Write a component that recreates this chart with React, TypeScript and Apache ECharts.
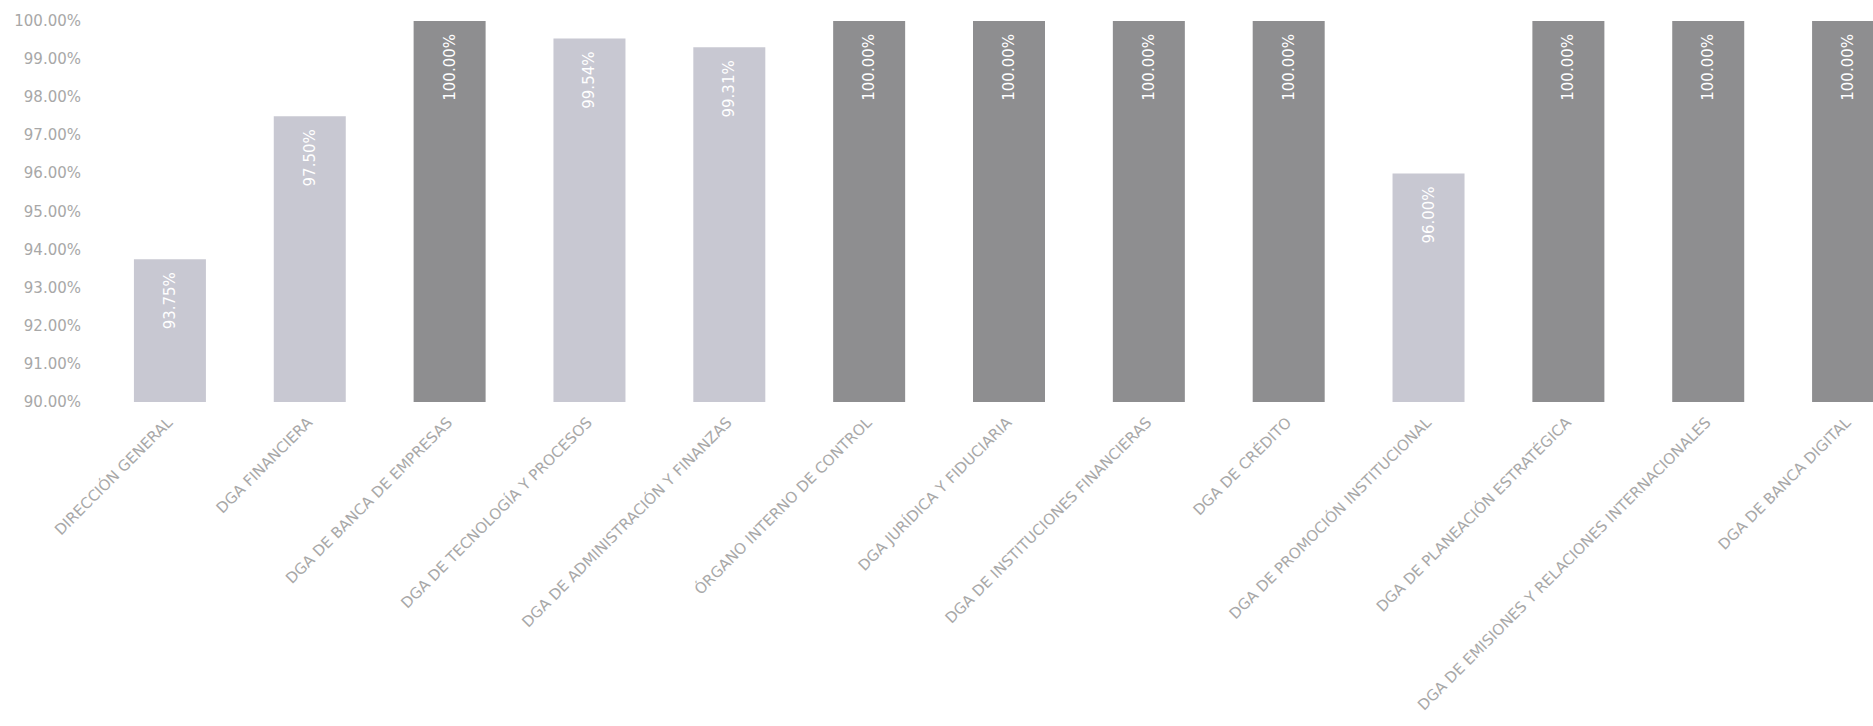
import React, { useEffect, useRef } from "react";
import * as echarts from "echarts";

const categories = [
  "DIRECCIÓN GENERAL",
  "DGA FINANCIERA",
  "DGA DE BANCA DE EMPRESAS",
  "DGA DE TECNOLOGÍA Y PROCESOS",
  "DGA DE ADMINISTRACIÓN Y FINANZAS",
  "ÓRGANO INTERNO DE CONTROL",
  "DGA JURÍDICA Y FIDUCIARIA",
  "DGA DE INSTITUCIONES FINANCIERAS",
  "DGA DE CRÉDITO",
  "DGA DE PROMOCIÓN INSTITUCIONAL",
  "DGA DE PLANEACIÓN ESTRATÉGICA",
  "DGA DE EMISIONES Y RELACIONES INTERNACIONALES",
  "DGA DE BANCA DIGITAL",
];

const values = [93.75, 97.5, 100, 99.54, 99.31, 100, 100, 100, 100, 96.0, 100, 100, 100];

const DARK = "#8e8e90";
const LIGHT = "#c8c8d2";
const TEXT = "#a8a8a8";

export default function App() {
  const ref = useRef<HTMLDivElement>(null);
  useEffect(() => {
    if (!ref.current) return;
    const chart = echarts.init(ref.current, undefined, { renderer: "svg" });
    chart.setOption({
      animation: false,
      backgroundColor: "#ffffff",
      grid: { left: 100, right: 12, top: 21, bottom: 324, containLabel: false },
      xAxis: {
        type: "category",
        data: categories,
        axisLine: { show: false },
        axisTick: { show: false },
        axisLabel: {
          interval: 0,
          rotate: 45,
          margin: 18,
          color: TEXT,
          fontFamily: "DejaVu Sans",
          fontSize: 15,
        },
      },
      yAxis: {
        type: "value",
        min: 90,
        max: 100,
        interval: 1,
        splitLine: { show: false },
        axisLine: { show: false },
        axisTick: { show: false },
        axisLabel: {
          margin: 19,
          color: TEXT,
          fontFamily: "DejaVu Sans",
          fontSize: 15,
          formatter: (v: number) => v.toFixed(2) + "%",
        },
      },
      series: [
        {
          type: "bar",
          barWidth: 72,
          data: values.map((v) => ({
            value: v,
            itemStyle: { color: v >= 100 ? DARK : LIGHT },
          })),
          label: {
            show: true,
            position: "insideTop",
            rotate: 90,
            align: "right",
            verticalAlign: "middle",
            distance: 13,
            color: "#ffffff",
            fontFamily: "DejaVu Sans",
            fontSize: 15,
            formatter: (p: any) => Number(p.value).toFixed(2) + "%",
          },
        },
      ],
    });
    return () => chart.dispose();
  }, []);
  return (
    <div
      ref={ref}
      style={{ position: "fixed", left: 0, top: 0, width: 1930, height: 726, background: "#fff" }}
    />
  );
}
